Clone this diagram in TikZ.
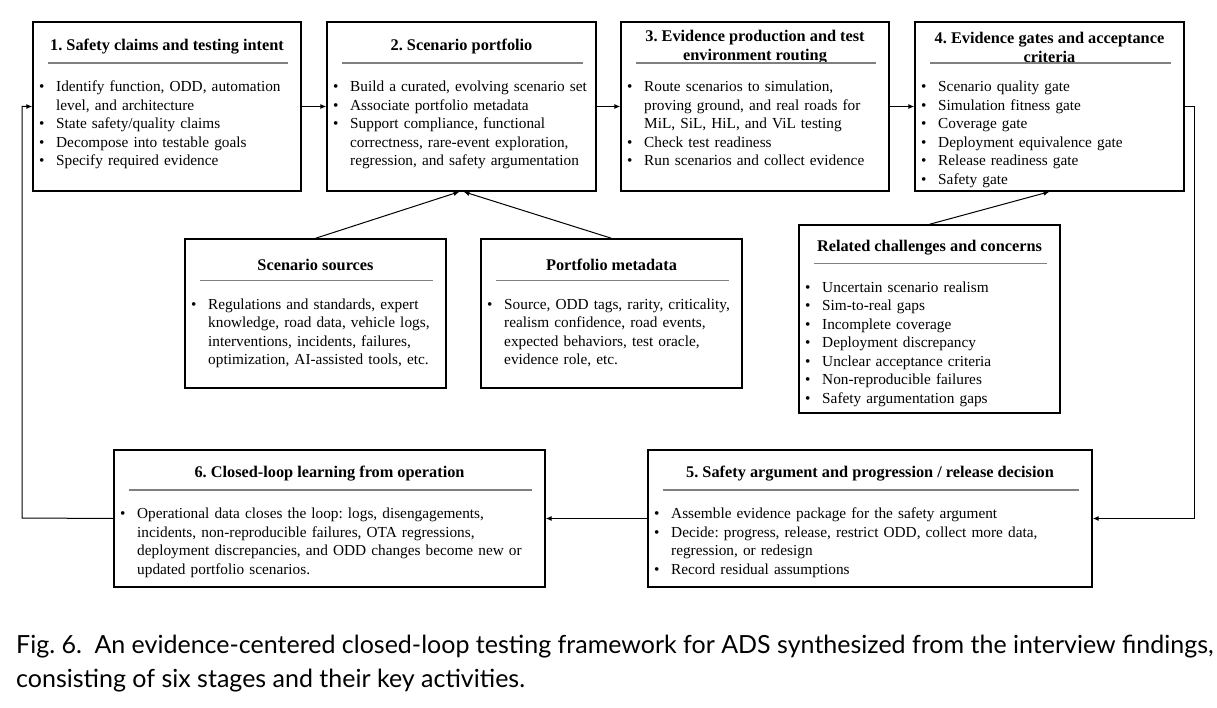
\documentclass[tikz,border=0pt]{standalone}
\usepackage{fontspec}
\setmainfont{Liberation Serif}
\newfontfamily\capfont{Lato}
\usetikzlibrary{arrows.meta}
\frenchspacing
\newcommand\itm{\par\hangindent=17pt\hangafter=1\noindent\makebox[17pt][l]{\strut\textbullet}}
% one stage box: name, left, top, right, bottom, title, items, shift of contents
\newcommand\stage[8]{%
  \node[box, minimum width=#4-#2, minimum height=#5-#3] (#1) at ({(#2+#4)/2},{(#3+#5)/2}) {};
  \node[ttl] (#1t) at ({(#2+#4)/2},{#3+25+#8}) {#6};
  \draw[rulel] ({#2+15},{#3+41+#8}) -- ({#4-13},{#3+41+#8});
  \node[list, text width=\dimexpr #4pt-#2pt-10pt\relax] (#1l) at ({#2+6},{#3+51+#8}) {\raggedright #7\par};
}
\begin{document}
\begin{tikzpicture}[x=1pt, y=-1pt,
  every node/.style={font=\fontsize{15.3}{18.5}\selectfont},
  box/.style={draw, line width=1.4pt, inner sep=0pt},
  ttl/.style={font=\fontsize{16.3}{19}\selectfont\bfseries, align=center, inner sep=0pt},
  list/.style={anchor=north west, inner sep=0pt},
  rulel/.style={draw=gray, line width=1.2pt},
  arr/.style={-{Latex[length=6pt,width=5pt]}, line width=1pt}]
\useasboundingbox (0,0) rectangle (1217,708);
\stage{s1}{33}{22}{301}{191}{1. Safety claims and testing intent}
  {\itm Identify function, ODD, automation\newline level, and architecture \itm State safety/quality claims \itm Decompose into testable goals \itm Specify required evidence}{0}
\stage{s2}{327}{22}{596}{191}{2. Scenario portfolio}
  {\itm Build a curated, evolving scenario set \itm Associate portfolio metadata \itm Support compliance, functional\newline correctness, rare-event exploration,\newline regression, and safety argumentation}{0}
\stage{s3}{621}{22}{889}{191}{3. Evidence production and test\\environment routing}
  {\itm Route scenarios to simulation,\newline proving ground, and real roads for\newline MiL, SiL, HiL, and ViL testing \itm Check test readiness \itm Run scenarios and collect evidence}{0}
\stage{s4}{915}{22}{1184}{191}{4. Evidence gates and acceptance\\criteria}
  {\itm Scenario quality gate \itm Simulation fitness gate \itm Coverage gate \itm Deployment equivalence gate \itm Release readiness gate \itm Safety gate}{0}
\stage{src}{185}{239}{446}{388}{Scenario sources}
  {\itm Regulations and standards, expert\newline knowledge, road data, vehicle logs,\newline interventions, incidents, failures,\newline optimization, AI-assisted tools, etc.}{0.5}
\stage{meta}{481}{239}{742}{388}{Portfolio metadata}
  {\itm Source, ODD tags, rarity, criticality,\newline realism confidence, road events,\newline expected behaviors, test oracle,\newline evidence role, etc.}{0.5}
\stage{chal}{799}{225}{1060}{413}{Related challenges and concerns}
  {\itm Uncertain scenario realism \itm Sim-to-real gaps \itm Incomplete coverage \itm Deployment discrepancy \itm Unclear acceptance criteria \itm Non-reproducible failures \itm Safety argumentation gaps}{-2.5}
\stage{s6}{114}{450}{545}{587}{6. Closed-loop learning from operation}
  {\itm Operational data closes the loop: logs, disengagements,\newline incidents, non-reproducible failures, OTA regressions,\newline deployment discrepancies, and ODD changes become new or\newline updated portfolio scenarios.}{-1}
\stage{s5}{648}{450}{1092}{587}{5. Safety argument and progression / release decision}
  {\itm Assemble evidence package for the safety argument \itm Decide: progress, release, restrict ODD, collect more data,\newline regression, or redesign \itm Record residual assumptions}{-1}
% stage flow
\draw[arr] (s1) -- (s2);
\draw[arr] (s2) -- (s3);
\draw[arr] (s3) -- (s4);
\draw[arr] (s4.east) -- ++(10,0) |- (s5.east);
\draw[arr] (s5) -- (s6);
\coordinate (loopl) at (22,518);
\draw[arr] (s6.west) -- (loopl) |- (s1.west);
% inputs
\draw[arr] (src.north) -- ([xshift=-2]s2.south);
\draw[arr] (meta.north) -- ([xshift=2]s2.south);
\draw[arr] (chal.north) -- (s4.south);
% caption
\node[anchor=base west, inner sep=0pt, font=\capfont\fontsize{25}{34}\selectfont] (cap1) at (16,653) {Fig. 6.\enspace An evidence-centered closed-loop testing framework for ADS synthesized from the interview findings,};
\node[anchor=base west, inner sep=0pt, font=\capfont\fontsize{25}{34}\selectfont] (cap2) at (16,687) {consisting of six stages and their key activities.};
\end{tikzpicture}
\end{document}
